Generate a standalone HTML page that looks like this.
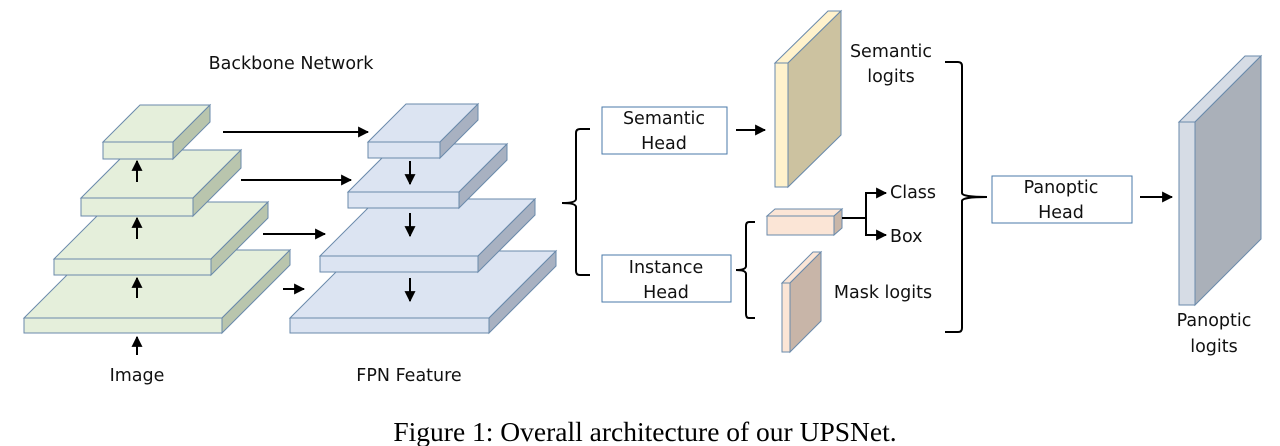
<!DOCTYPE html>
<html><head><meta charset="utf-8"><style>
html,body{margin:0;padding:0;background:#fff;}
svg{display:block;}
.t{font-family:"DejaVu Sans","Liberation Sans",sans-serif;font-size:17.5px;fill:#111;}
</style></head><body>
<svg width="1280" height="446" viewBox="0 0 1280 446" xmlns="http://www.w3.org/2000/svg">
<defs>
<marker id="ah" viewBox="0 0 10 10" refX="9" refY="5" markerWidth="5.5" markerHeight="5.5" orient="auto-start-reverse"><path d="M0,0 L10,5 L0,10 z" fill="#000"/></marker>
</defs>
<g stroke="#6a8aab" stroke-width="1">
<g fill="#e5efdb">
<polygon points="24,318 92,250 290,250 222,318"/><polygon points="222,318 290,250 290,265 222,333" fill="#b9c5ad"/><rect x="24" y="318" width="198" height="15"/>
<polygon points="54,259 111,202 268,202 211,259"/><polygon points="211,259 268,202 268,218 211,275" fill="#b9c5ad"/><rect x="54" y="259" width="157" height="16"/>
<polygon points="81,198 129,150 241,150 193,198"/><polygon points="193,198 241,150 241,168 193,216" fill="#b9c5ad"/><rect x="81" y="198" width="112" height="18"/>
<polygon points="103,142 140,105 210,105 173,142"/><polygon points="173,142 210,105 210,122 173,159" fill="#b9c5ad"/><rect x="103" y="142" width="70" height="17"/>
</g>
<g fill="#dce4f2">
<polygon points="290,318 357,251 556,251 489,318"/><polygon points="489,318 556,251 556,266 489,333" fill="#a8b1c1"/><rect x="290" y="318" width="199" height="15"/>
<polygon points="320,256 377,199 535,199 478,256"/><polygon points="478,256 535,199 535,215 478,272" fill="#a8b1c1"/><rect x="320" y="256" width="158" height="16"/>
<polygon points="348,192 396,144 507,144 459,192"/><polygon points="459,192 507,144 507,160 459,208" fill="#a8b1c1"/><rect x="348" y="192" width="111" height="16"/>
<polygon points="368,142 406,104 478,104 440,142"/><polygon points="440,142 478,104 478,120 440,158" fill="#a8b1c1"/><rect x="368" y="142" width="72" height="16"/>
</g>
<polygon points="775,63 828,11 841,11 788,63" fill="#fff2cc"/><polygon points="788,63 841,11 841,135 788,187" fill="#ccc2a0"/><rect x="775" y="63" width="13" height="124" fill="#fff2cc"/>
<polygon points="767,216 775,209 842,209 834,216" fill="#fbe5d6"/><polygon points="834,216 842,209 842,228 834,235" fill="#c9b6a8"/><rect x="767" y="216" width="67" height="19" fill="#fbe5d6"/>
<polygon points="782,283 813,252 821,252 790,283" fill="#fbe5d6"/><polygon points="790,283 821,252 821,321 790,352" fill="#c8b5a8"/><rect x="782" y="283" width="8" height="69" fill="#fbe5d6"/>
<polygon points="1179,122 1245,56 1261,56 1195,122" fill="#d6dce5"/><polygon points="1195,122 1261,56 1261,239 1195,305" fill="#aab0b9"/><rect x="1179" y="122" width="16" height="183" fill="#d6dce5"/>
<g fill="#fff" stroke="#4a79a8"><rect x="602" y="107" width="125" height="47"/><rect x="602" y="255" width="129" height="47"/><rect x="992" y="176" width="140" height="47"/></g>
</g>
<g stroke="#000" stroke-width="2" fill="none" marker-end="url(#ah)">
<line x1="137" y1="355" x2="137" y2="337"/>
<line x1="137" y1="298" x2="137" y2="278"/>
<line x1="137" y1="239" x2="137" y2="218"/>
<line x1="137" y1="182" x2="137" y2="161"/>
<line x1="410" y1="161" x2="410" y2="184"/>
<line x1="410" y1="213" x2="410" y2="236"/>
<line x1="410" y1="278" x2="410" y2="301"/>
<line x1="223" y1="132" x2="368" y2="132"/>
<line x1="241" y1="180" x2="351" y2="180"/>
<line x1="263" y1="234" x2="325" y2="234"/>
<line x1="283" y1="289" x2="304" y2="289"/>
<line x1="736" y1="130" x2="765" y2="130"/>
<line x1="1140" y1="197" x2="1172" y2="197"/>
<polyline points="866,218 866,193 886,193"/>
<polyline points="866,218 866,235 886,235"/>
</g>
<g stroke="#000" stroke-width="2" fill="none">
<line x1="842" y1="218" x2="866" y2="218"/>
<path d="M590,129 H580 Q576,129 576,133 V199 Q576,203 562,203 Q576,203 576,207 V271 Q576,275 580,275 H590"/>
<path d="M755,222 H749 Q746,222 746,226 V266 Q746,270 736,270 Q746,270 746,274 V314 Q746,318 749,318 H755"/>
<path d="M945,62 H958 Q962,62 962,66 V193 Q962,197 987,197 Q962,197 962,201 V328 Q962,332 958,332 H945"/>
</g>
<g class="t" text-anchor="middle">
<text x="291" y="69">Backbone Network</text>
<text x="137" y="381">Image</text>
<text x="409" y="381">FPN Feature</text>
<text x="664" y="124">Semantic</text><text x="664" y="149">Head</text>
<text x="666" y="273">Instance</text><text x="666" y="298">Head</text>
<text x="1061" y="193">Panoptic</text><text x="1061" y="218">Head</text>
<text x="891" y="57">Semantic</text><text x="891" y="82">logits</text>
<text x="1214" y="326">Panoptic</text><text x="1214" y="352">logits</text>
<text x="883" y="298">Mask logits</text>
</g>
<g class="t"><text x="890" y="198">Class</text><text x="890" y="242">Box</text></g>
<text x="645" y="441" text-anchor="middle" font-family="Liberation Serif, serif" font-size="27.5" fill="#000">Figure 1: Overall architecture of our UPSNet.</text>
</svg>
</body></html>
